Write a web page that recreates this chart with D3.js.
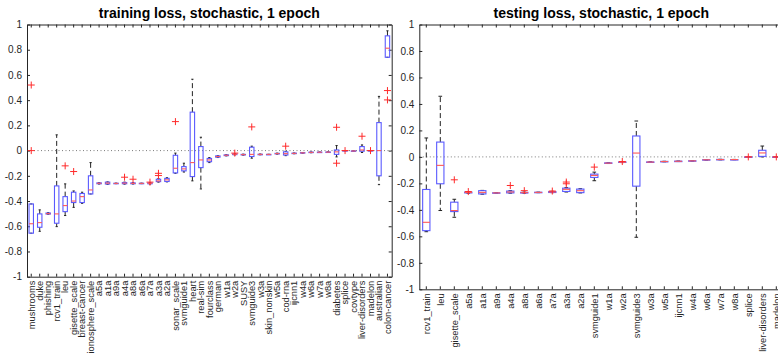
<!DOCTYPE html>
<html>
<head>
<meta charset="utf-8">
<script src="https://cdn.jsdelivr.net/npm/d3@7"></script>
<style>
  body { margin: 0; background: #fff; }
  svg { display: block; font-family: "Liberation Sans", Arial, Helvetica, sans-serif; }
</style>
</head>
<body>
<svg id="chart" width="778" height="353"></svg>
<script>
// training loss, per dataset: whisker low, q1, median, q3, whisker high, outliers
const trainNames = ["mushrooms", "duke", "phishing", "rcv1_train", "leu", "gisette_scale", "breast-cancer",
  "ionosphere_scale", "a5a", "a1a", "a9a", "a4a", "a8a", "a6a", "a7a", "a3a", "a2a", "sonar_scale",
  "svmguide1", "heart", "real-sim", "fourclass", "german", "w1a", "w2a", "SUSY", "svmguide3", "w3a",
  "skin_nonskin", "w5a", "cod-rna", "ijcnn1", "w4a", "w6a", "w7a", "w8a", "diabetes", "splice",
  "covtype", "liver-disorders", "madelon", "australian", "colon-cancer"];
const trainLo  = [-0.655, -0.64, -0.505, -0.603, -0.515, -0.45, -0.418, -0.344, -0.265, -0.268, -0.262, -0.266, -0.265, -0.262, -0.265, -0.25, -0.248, -0.18, -0.17, -0.24, -0.304, -0.095, -0.055, -0.042, -0.034, -0.036, -0.06, -0.033, -0.03, -0.028, -0.04, -0.025, -0.021, -0.017, -0.015, -0.014, -0.05, 0, -0.004, -0.015, 0, -0.27, 0.74];
const trainQ1  = [-0.655, -0.608, -0.503, -0.576, -0.484, -0.412, -0.412, -0.344, -0.263, -0.265, -0.261, -0.263, -0.263, -0.261, -0.263, -0.246, -0.245, -0.177, -0.161, -0.206, -0.135, -0.088, -0.052, -0.04, -0.032, -0.034, -0.047, -0.031, -0.03, -0.026, -0.035, -0.024, -0.02, -0.016, -0.014, -0.013, -0.03, 0, -0.004, -0.005, 0, -0.2, 0.74];
const trainMed = [-0.58, -0.571, -0.5, -0.502, -0.436, -0.4, -0.365, -0.312, -0.259, -0.258, -0.26, -0.258, -0.26, -0.26, -0.26, -0.24, -0.232, -0.14, -0.145, -0.095, -0.074, -0.074, -0.047, -0.037, -0.03, -0.032, -0.03, -0.03, -0.03, -0.024, -0.024, -0.022, -0.018, -0.014, -0.013, -0.012, -0.01, 0, -0.003, 0.005, 0, 0, 0.812];
const trainQ3  = [-0.423, -0.502, -0.495, -0.28, -0.365, -0.33, -0.34, -0.2, -0.256, -0.25, -0.259, -0.253, -0.256, -0.259, -0.257, -0.227, -0.22, -0.037, -0.127, 0.305, 0.032, -0.062, -0.042, -0.034, -0.028, -0.03, 0.027, -0.029, -0.03, -0.022, -0.01, -0.02, -0.016, -0.012, -0.012, -0.011, 0.005, 0, -0.002, 0.032, 0, 0.222, 0.91];
const trainHi  = [-0.423, -0.47, -0.492, 0.125, -0.264, -0.32, -0.33, -0.095, -0.254, -0.248, -0.258, -0.25, -0.254, -0.258, -0.255, -0.222, -0.215, -0.02, -0.1, 0.566, 0.106, -0.055, -0.04, -0.032, -0.026, -0.028, 0.035, -0.027, -0.03, -0.02, -0.005, -0.019, -0.015, -0.011, -0.011, -0.01, 0.04, 0, -0.002, 0.045, 0, 0.43, 0.95];
const trainOut = [[0.52, 0], [], [], [], [-0.121], [-0.166], [], [], [], [], [], [-0.211], [-0.227], [], [-0.25], [-0.18, -0.198], [], [0.23], [], [], [], [], [], [], [-0.02], [], [0.188], [], [], [], [0.035], [], [], [], [], [], [0.185, -0.1], [0], [], [0.114], [0], [], [0.476, 0.402]];

// testing loss
const testNames = ["rcv1_train", "leu", "gisette_scale", "a5a", "a1a", "a9a", "a4a", "a8a", "a6a", "a7a", "a3a",
  "a2a", "svmguide1", "w1a", "w2a", "svmguide3", "w3a", "w5a", "ijcnn1", "w4a", "w6a", "w7a", "w8a",
  "splice", "liver-disorders", "madelon"];
const testLo  = [-0.565, -0.405, -0.456, -0.274, -0.282, -0.273, -0.274, -0.274, -0.27, -0.27, -0.265, -0.272, -0.18, -0.05, -0.043, -0.607, -0.041, -0.037, -0.035, -0.032, -0.024, -0.022, -0.021, 0, 0, 0];
const testQ1  = [-0.557, -0.203, -0.413, -0.272, -0.28, -0.273, -0.272, -0.273, -0.269, -0.269, -0.261, -0.27, -0.155, -0.049, -0.042, -0.221, -0.04, -0.036, -0.034, -0.031, -0.023, -0.021, -0.02, 0, 0.004, 0];
const testMed = [-0.494, -0.064, -0.405, -0.269, -0.268, -0.272, -0.265, -0.27, -0.268, -0.265, -0.245, -0.255, -0.14, -0.047, -0.04, 0.029, -0.039, -0.035, -0.033, -0.03, -0.022, -0.02, -0.02, 0, 0.03, 0];
const testQ3  = [-0.246, 0.112, -0.342, -0.266, -0.255, -0.271, -0.258, -0.268, -0.267, -0.262, -0.236, -0.243, -0.13, -0.045, -0.038, 0.158, -0.038, -0.034, -0.032, -0.029, -0.021, -0.019, -0.02, 0, 0.05, 0];
const testHi  = [0.143, 0.458, -0.32, -0.264, -0.253, -0.271, -0.255, -0.266, -0.266, -0.26, -0.232, -0.24, -0.115, -0.044, -0.037, 0.271, -0.037, -0.033, -0.031, -0.028, -0.02, -0.018, -0.019, 0, 0.082, 0];
const testOut = [[], [], [-0.173], [-0.262], [], [], [-0.216], [-0.255], [], [-0.258], [-0.19, -0.203], [], [-0.077], [], [-0.035], [], [], [], [], [], [], [], [], [0], [], [0]];

const yTicks = [-1, -0.8, -0.6, -0.4, -0.2, 0, 0.2, 0.4, 0.6, 0.8, 1];

const svg = d3.select("#chart");
const AXIS = "#262626";

function drawPanel(title, names, lo, q1, med, q3, hi, out, box) {
  const g = svg.append("g");
  const x = d3.scaleBand().domain(names).range([box.x0, box.x1]);
  const y = d3.scaleLinear().domain([-1, 1]).range([box.y1, box.y0]);
  const bw = x.bandwidth() * 0.52;
  const cx = (d) => x(d) + x.bandwidth() / 2;

  // zero reference line
  g.append("line")
    .attr("x1", box.x0).attr("x2", box.x1)
    .attr("y1", y(0)).attr("y2", y(0))
    .attr("stroke", "#7a7a7a")
    .attr("stroke-dasharray", "1,2.5");

  // axes, ticks inward
  g.append("g").attr("transform", `translate(${box.x0},0)`)
    .call(d3.axisLeft(y).tickValues(yTicks).tickSize(-3).tickSizeOuter(0).tickPadding(5).tickFormat((d) => String(d)))
    .selectAll("text").style("font-size", "10px");
  g.append("g").attr("transform", `translate(${box.x1},0)`)
    .call(d3.axisRight(y).tickValues(yTicks).tickSize(-3).tickSizeOuter(0).tickFormat(""));
  g.append("g").attr("transform", `translate(0,${box.y0})`)
    .call(d3.axisTop(x).tickSize(-3).tickSizeOuter(0).tickFormat(""));
  const bottom = g.append("g").attr("transform", `translate(0,${box.y1})`)
    .call(d3.axisBottom(x).tickSize(-3).tickSizeOuter(0));
  bottom.selectAll("text")
    .attr("transform", "rotate(-90)")
    .attr("x", -4).attr("y", 0).attr("dy", "0.35em")
    .style("text-anchor", "end")
    .style("font-size", "9.3px");

  g.selectAll(".domain, .tick line").attr("stroke", AXIS);
  g.selectAll(".tick text").attr("fill", AXIS);

  const idx = d3.range(names.length);

  // whiskers
  const wh = g.append("g");
  idx.forEach((i) => {
    const c = cx(names[i]);
    wh.append("line").attr("x1", c).attr("x2", c)
      .attr("y1", y(q3[i])).attr("y2", y(hi[i]))
      .attr("stroke", "#222").attr("stroke-dasharray", "5,3");
    wh.append("line").attr("x1", c).attr("x2", c)
      .attr("y1", y(q1[i])).attr("y2", y(lo[i]))
      .attr("stroke", "#222").attr("stroke-dasharray", "5,3");
    [lo[i], hi[i]].forEach((v) => {
      wh.append("line").attr("x1", c - bw / 4).attr("x2", c + bw / 4)
        .attr("y1", y(v)).attr("y2", y(v))
        .attr("stroke", "#222");
    });
  });

  // boxes
  g.append("g").selectAll("rect").data(idx).join("rect")
    .attr("x", (i) => cx(names[i]) - bw / 2)
    .attr("width", bw)
    .attr("y", (i) => y(q3[i]))
    .attr("height", (i) => Math.max(y(q1[i]) - y(q3[i]), 0.5))
    .attr("fill", "none")
    .attr("stroke", "#5a5aff")
    .attr("stroke-width", 1.1);

  // medians
  g.append("g").selectAll("line").data(idx).join("line")
    .attr("x1", (i) => cx(names[i]) - bw / 2)
    .attr("x2", (i) => cx(names[i]) + bw / 2)
    .attr("y1", (i) => y(med[i]))
    .attr("y2", (i) => y(med[i]))
    .attr("stroke", "#ff5a5a")
    .attr("stroke-width", 1.1);

  // outliers
  const pts = [];
  idx.forEach((i) => out[i].forEach((v) => pts.push({ c: cx(names[i]), v })));
  g.append("g").selectAll("path").data(pts).join("path")
    .attr("d", (d) => {
      const px = d.c, py = y(d.v), s = 3.5;
      return `M${px - s},${py}H${px + s}M${px},${py - s}V${py + s}`;
    })
    .attr("stroke", "#ff2a2a")
    .attr("stroke-width", 1);

  // title
  g.append("text")
    .attr("x", (box.x0 + box.x1) / 2)
    .attr("y", 18)
    .attr("text-anchor", "middle")
    .style("font-size", "14px")
    .style("font-weight", "bold")
    .attr("fill", "#000")
    .text(title);
}

drawPanel("training loss, stochastic, 1 epoch", trainNames, trainLo, trainQ1, trainMed, trainQ3, trainHi, trainOut,
  { x0: 27, x1: 391.7, y0: 24.5, y1: 276.7 });
drawPanel("testing loss, stochastic, 1 epoch", testNames, testLo, testQ1, testMed, testQ3, testHi, testOut,
  { x0: 419.3, x1: 783.3, y0: 24.5, y1: 289.3 });
</script>
</body>
</html>
